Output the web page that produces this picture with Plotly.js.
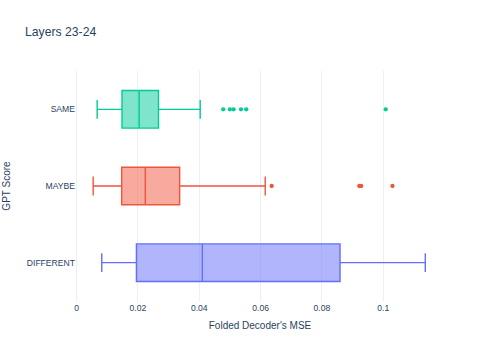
<!DOCTYPE html>
<html>
<head>
<meta charset="utf-8">
<script src="https://cdn.plot.ly/plotly-3.0.1.min.js"></script>
<style>
  html, body { margin: 0; padding: 0; background: #fff; }
  #chart { width: 501px; height: 358px; }
</style>
</head>
<body>
<div id="chart"></div>
<script>
// categories, bottom to top
const categories = ['DIFFERENT', 'MAYBE', 'SAME'];
const colors = ['#636efa', '#EF553B', '#00cc96'];

// box stats
const lowerFence = [0.0082, 0.0054, 0.0067];
const q1 = [0.0195, 0.0147, 0.0148];
const median = [0.0410, 0.0224, 0.0204];
const q3 = [0.0859, 0.0336, 0.0267];
const upperFence = [0.1137, 0.0615, 0.0403];

// outlier points per category
const outliers = [
  [],
  [0.0636, 0.0922, 0.0928, 0.1030],
  [0.0478, 0.0500, 0.0512, 0.0536, 0.0553, 0.1008]
];

const traces = categories.map((cat, i) => {
  const t = {
    type: 'box',
    orientation: 'h',
    name: cat,
    y: [cat],
    q1: [q1[i]],
    median: [median[i]],
    q3: [q3[i]],
    lowerfence: [lowerFence[i]],
    upperfence: [upperFence[i]],
    marker: { color: colors[i], size: 4.3 },
    line: { color: colors[i], width: 1.4 },
    showlegend: false
  };
  if (outliers[i].length) {
    t.x = [outliers[i]];
    t.boxpoints = 'outliers';
  } else {
    t.boxpoints = false;
  }
  return t;
});

const layout = {
  width: 501,
  height: 358,
  margin: { l: 76, r: 57, t: 71, b: 57 },
  paper_bgcolor: '#fff',
  plot_bgcolor: '#fff',
  font: { family: 'Arial, "Liberation Sans", sans-serif', size: 8.6, color: '#2a3f5f' },
  title: { text: 'Layers 23-24', font: { size: 12.2 }, x: 0.05 },
  xaxis: {
    title: { text: "Folded Decoder's MSE", standoff: 10 },
    range: [-0.0002, 0.1198],
    dtick: 0.02,
    gridcolor: '#EBF0F8',
    zerolinecolor: '#EBF0F8',
    zerolinewidth: 1.4,
    showline: false,
    ticks: ''
  },
  yaxis: {
    title: { text: 'GPT Score', standoff: 14 },
    type: 'category',
    categoryarray: categories,
    showgrid: false,
    zeroline: false,
    ticks: ''
  }
};

Plotly.newPlot('chart', traces, layout, { displayModeBar: false });
</script>
</body>
</html>
